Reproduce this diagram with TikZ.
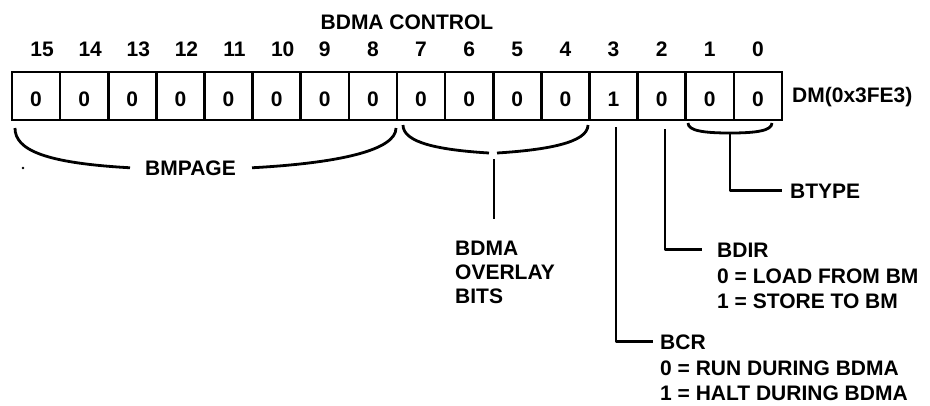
\documentclass[tikz,border=0pt]{standalone}
\usepackage{fontspec}
\setmainfont{Liberation Sans}
\begin{document}
\begin{tikzpicture}[x=1pt,y=-1pt,
  lbl/.style={font=\fontsize{21}{25}\selectfont\bfseries, inner sep=0pt},
  cell/.style={draw, line width=2.6pt, minimum width=48.125pt, minimum height=48pt,
    inner sep=0pt, text height=20pt, text depth=0pt, font=\fontsize{21}{25}\selectfont\bfseries},
  wire/.style={line width=2.8pt, line join=round}]
\useasboundingbox (0,0) rectangle (930,405);

% register cells
\foreach \b/\v in {15/0,14/0,13/0,12/0,11/0,10/0,9/0,8/0,7/0,6/0,5/0,4/0,3/1,2/0,1/0,0/0}
  \node[cell] (c\b) at ({12+(15-\b)*48.125+24.0625},96) {\v};

% bit numbers
\foreach \b in {15,14,13,12,11,10}
  \node[lbl,anchor=base] (n\b) at ({12+(15-\b)*48.125+24.0625+6},56) {\b};
\foreach \b in {9,8,7,6,5,4,3,2,1,0}
  \node[lbl,anchor=base] (n\b) at ({12+(15-\b)*48.125+24.0625},56) {\b};

\node[lbl,anchor=base] (title) at (407,29) {BDMA CONTROL};
\node[lbl,anchor=base west] (dm) at (792,102) {DM(0x3FE3)};

% BMPAGE
\node[lbl,anchor=base west] (bmpage) at (145,175) {BMPAGE};
\coordinate (bmL) at (15,128);
\coordinate (bmR) at (396,128);
\draw[wire] (bmL) .. controls (15,150) and (45,163) .. ([xshift=-15pt]bmpage.west);
\draw[wire] ([xshift=16pt]bmpage.east) .. controls (340,163) and (396,150) .. (bmR);
\fill (23,168) circle (1.3pt);

% BDMA overlay bits
\coordinate (ovL) at (403,125);
\coordinate (ovR) at (588,125);
\coordinate (ovM1) at (489,153);
\coordinate (ovM2) at (497,153);
\coordinate (ovs) at (494,159);
\coordinate (ove) at (494,219);
\draw[wire] (ovL) .. controls (403,143) and (440,150) .. (ovM1);
\draw[wire] (ovM2) .. controls (545,150) and (588,143) .. (ovR);
\draw[wire] (ovs) -- (ove);
\node[lbl,anchor=base west] (ov1) at (455,255) {BDMA};
\node[lbl,anchor=base west] (ov2) at (455,279) {OVERLAY};
\node[lbl,anchor=base west] (ov3) at (455,303) {BITS};

% BTYPE
\coordinate (btL) at (688,123);
\coordinate (btR) at (772,123);
\coordinate (btM) at (730,133);
\node[lbl,anchor=base west] (btype) at (790,198) {BTYPE};
\draw[wire] (btL) .. controls (688,131) and (705,133) .. (btM)
  .. controls (755,133) and (772,131) .. (btR);
\draw[wire] (btM) |- ([xshift=-8pt]btype.west);

% BDIR
\coordinate (bdirs) at (665,129);
\node[lbl,anchor=base west] (bdir) at (717,257) {BDIR};
\node[lbl,anchor=base west] (bdir1) at (717,283) {0 = LOAD FROM BM};
\node[lbl,anchor=base west] (bdir2) at (717,308) {1 = STORE TO BM};
\draw[wire] (bdirs) |- ([xshift=-15pt]bdir.west);

% BCR
\coordinate (bcrs) at (616,127);
\node[lbl,anchor=base west] (bcr) at (660,349) {BCR};
\node[lbl,anchor=base west] (bcr1) at (660,375) {0 = RUN DURING BDMA};
\node[lbl,anchor=base west] (bcr2) at (660,400) {1 = HALT DURING BDMA};
\draw[wire] (bcrs) |- ([xshift=-7pt]bcr.west);
\end{tikzpicture}
\end{document}
